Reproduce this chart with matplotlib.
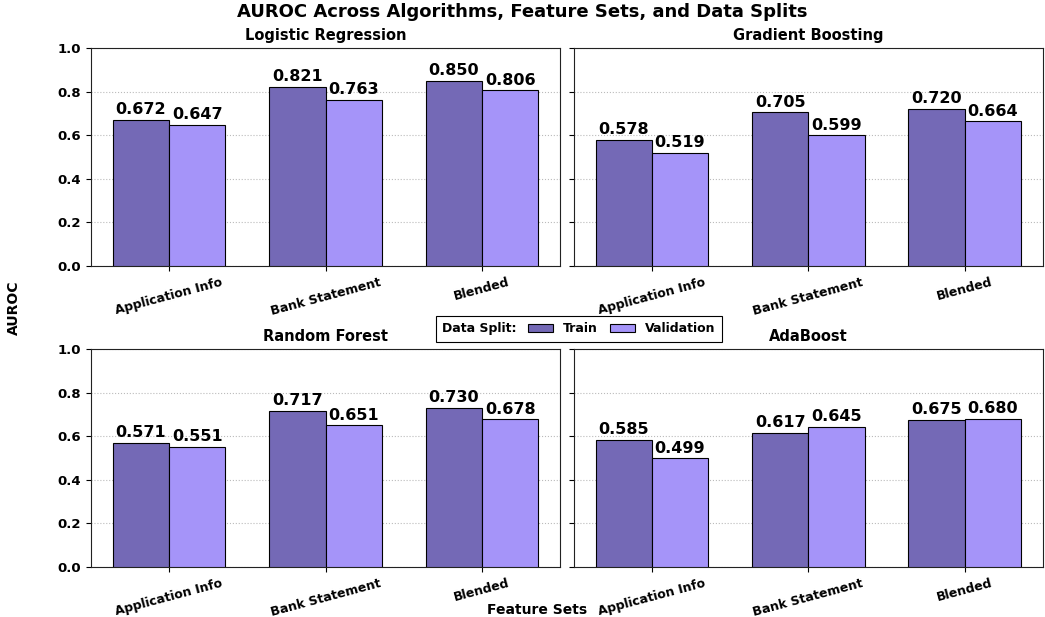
import matplotlib
matplotlib.use("Agg")
import matplotlib.pyplot as plt
import numpy as np
from matplotlib.offsetbox import HPacker

models = ["Logistic Regression", "Gradient Boosting", "Random Forest", "AdaBoost"]
feature_sets = ["Application Info", "Bank Statement", "Blended"]
train_vals = {
    "Logistic Regression": [0.672, 0.821, 0.850],
    "Gradient Boosting": [0.578, 0.705, 0.720],
    "Random Forest": [0.571, 0.717, 0.730],
    "AdaBoost": [0.585, 0.617, 0.675],
}
val_vals = {
    "Logistic Regression": [0.647, 0.763, 0.806],
    "Gradient Boosting": [0.519, 0.599, 0.664],
    "Random Forest": [0.551, 0.651, 0.678],
    "AdaBoost": [0.499, 0.645, 0.680],
}
yticks = [0.0, 0.2, 0.4, 0.6, 0.8, 1.0]

c_train = "#7469b6"
c_val = "#a594f9"

fig = plt.figure(figsize=(10.45, 6.17), dpi=100)
lefts = [0.087, 0.549]
bottoms = [0.569, 0.081]
w, h = 0.449, 0.353
axes = []
for r in range(2):
    for c in range(2):
        axes.append(fig.add_axes([lefts[c], bottoms[r], w, h]))

x = np.arange(len(feature_sets))
bw = 0.36
for i, (ax, m) in enumerate(zip(axes, models)):
    b1 = ax.bar(x - bw / 2, train_vals[m], bw, color=c_train, edgecolor="black", linewidth=0.8, label="Train", zorder=3)
    b2 = ax.bar(x + bw / 2, val_vals[m], bw, color=c_val, edgecolor="black", linewidth=0.8, label="Validation", zorder=3)
    for bars in (b1, b2):
        for b in bars:
            ax.text(b.get_x() + b.get_width() / 2, b.get_height() + 0.012, f"{b.get_height():.3f}",
                    ha="center", va="bottom", fontsize=11.5, fontweight="bold")
    ax.set_xlim(-0.5, 2.5)
    ax.set_ylim(0, 1.0)
    ax.set_yticks(yticks)
    ax.set_xticks(x)
    ax.set_xticklabels(feature_sets, rotation=15, fontsize=9, fontweight="bold")
    if i % 2 == 0:
        ax.set_yticklabels([f"{t:.1f}" for t in yticks], fontsize=9.5, fontweight="bold")
    else:
        ax.set_yticklabels([])
    ax.set_title(m, fontsize=10.5, fontweight="bold", pad=6)
    ax.grid(axis="y", linestyle=":", color="#bbbbbb", linewidth=0.8, zorder=0)
    for s in ax.spines.values():
        s.set_color("#222222")

fig.suptitle("AUROC Across Algorithms, Feature Sets, and Data Splits", fontsize=13, fontweight="bold", y=0.995)
fig.text(0.013, 0.502, "AUROC", rotation=90, ha="center", va="center", fontsize=10, fontweight="bold")
fig.text(0.514, 0.012, "Feature Sets", ha="center", va="center", fontsize=10, fontweight="bold")

handles, labels = axes[0].get_legend_handles_labels()
leg = fig.legend(handles, labels, loc="center", bbox_to_anchor=(0.554, 0.467), ncol=2,
                 title="Data Split:", title_fontproperties={"weight": "bold", "size": 9},
                 prop={"weight": "bold", "size": 9}, frameon=True, fancybox=False,
                 edgecolor="black", framealpha=1, handlelength=2.0, handleheight=0.7,
                 columnspacing=1.0, borderpad=0.5)
leg.get_frame().set_linewidth(0.8)
try:
    old = leg._legend_box
    ch = old.get_children()
    newbox = HPacker(pad=old.pad, sep=8, align="center", children=ch)
    newbox.set_figure(fig)
    newbox.set_offset(leg._findoffset)
    leg._legend_box = newbox
except Exception:
    pass

fig.savefig("out.png", dpi=100)
